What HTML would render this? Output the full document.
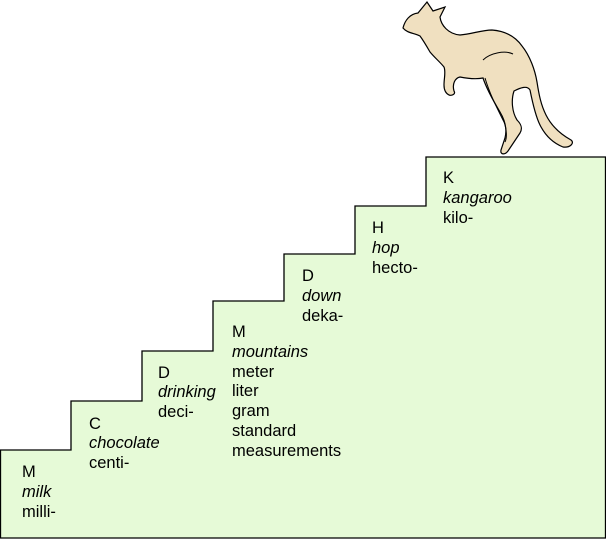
<!DOCTYPE html>
<html><head><style>
body{margin:0;background:#fff;width:606px;height:539px;overflow:hidden}
svg{position:absolute;left:0;top:0}
text{font-family:"Liberation Sans",sans-serif;font-size:16.5px;fill:#000}
.i{font-style:italic}
</style></head><body>
<svg width="606" height="539" viewBox="0 0 606 539">
<polygon points="0.5,538 0.5,450 71,450 71,401 142,401 142,351 213,351 213,301 284,301 284,254 355,254 355,206 426,206 426,157 605.5,157 605.5,538" fill="#e6fad7" stroke="#000" stroke-width="1.3"/>
<path d="M403,28 C405,20 410,14 418,13 L427,2 L433,11 L445,7 L440,17 C441,25 448,34 460,35 C472,34 482,30 492,30 C505,31 515,36 522,46 C530,56 535,70 537,82 C539,95 541,105 546,115 C552,127 562,135 571,140 C575,143 570,148 563,147 C553,143 545,135 540,125 C535,115 532,100 530,90 C527,85 520,88 514,91 C511,100 512,112 517,120 C521,124 523,128 520,133 L508,151 C505,155 500,155 501,150 L505,138 C507,130 506,122 500,112 C494,102 487,90 483,78 C478,79 470,79 460,77 C455,78 452,84 454,91 C456,94 452,96 449,95 C445,93 444,89 444,85 C444,78 446,72 444,67 C440,62 435,58 430,52 C426,45 423,40 420,36 C414,33 407,33 403,28 Z" fill="#f0e0c0" stroke="#000" stroke-width="1.2"/>
<path d="M483,60 C490,53 505,50 513,54 M485,78 C490,95 498,110 504,122 C507,130 507,138 505,142" fill="none" stroke="#000" stroke-width="1"/>
<text x="22" y="477">M</text><text x="22" y="497" class="i">milk</text><text x="22" y="517">milli-</text>
<text x="89" y="429">C</text><text x="89" y="448" class="i">chocolate</text><text x="89" y="468">centi-</text>
<text x="158" y="378">D</text><text x="158" y="397" class="i">drinking</text><text x="158" y="417">deci-</text>
<text x="232" y="337">M</text><text x="232" y="357" class="i">mountains</text><text x="232" y="377">meter</text><text x="232" y="396">liter</text><text x="232" y="416">gram</text><text x="232" y="436">standard</text><text x="232" y="456">measurements</text>
<text x="302" y="281">D</text><text x="302" y="301" class="i">down</text><text x="302" y="321">deka-</text>
<text x="372" y="233">H</text><text x="372" y="253" class="i">hop</text><text x="372" y="273">hecto-</text>
<text x="443" y="183">K</text><text x="443" y="203" class="i">kangaroo</text><text x="443" y="223">kilo-</text>
</svg>
</body></html>
